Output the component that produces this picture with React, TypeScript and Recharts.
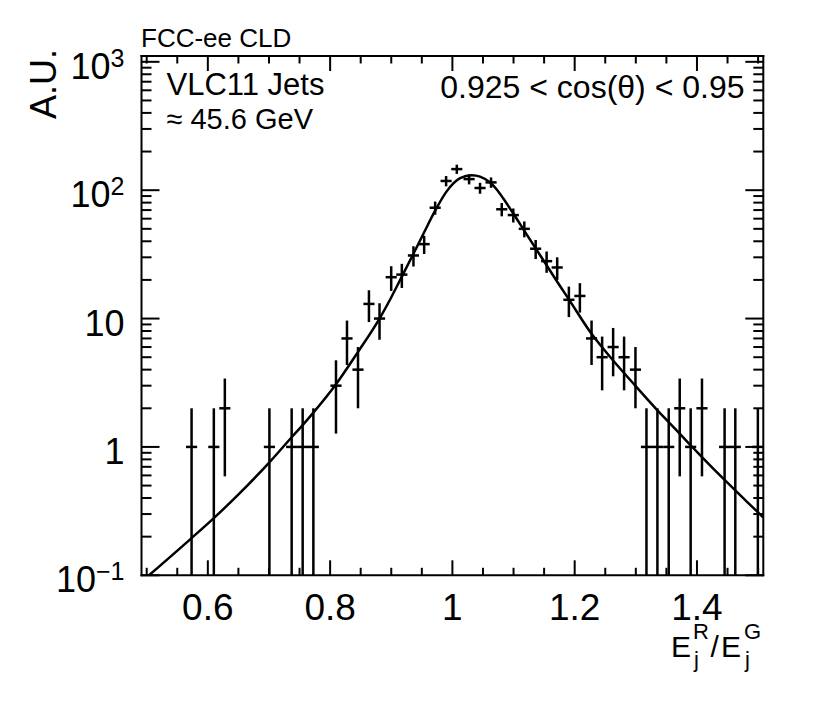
import React from 'react';
import { ComposedChart, Scatter, Line, XAxis, YAxis, ErrorBar } from 'recharts';

// ---- data ----
const BIN_CENTERS = [
  0.5734, 0.6098, 0.6278, 0.7007, 0.7371, 0.7551, 0.7726, 0.8096, 0.8276, 0.8456,
  0.8635, 0.8808, 0.8999, 0.9173, 0.9363, 0.9538, 0.9718, 0.9897, 1.0072, 1.0273,
  1.0452, 1.0632, 1.0807, 1.0996, 1.1176, 1.1362, 1.1541, 1.1714, 1.1905, 1.2085,
  1.2276, 1.2449, 1.2629, 1.2808, 1.2994, 1.3174, 1.3353, 1.3538, 1.3718, 1.3897,
  1.4082, 1.4452, 1.4627, 1.4996,
];
const COUNTS = [
  1, 1, 2, 1, 1, 1, 1, 3, 7, 4,
  13, 10, 21, 22, 31, 38, 73, 118, 146, 122,
  104, 115, 71, 64, 50, 35, 28, 25, 14, 15,
  7, 5, 6, 5, 4, 1, 1, 1, 2, 1,
  2, 1, 1, 1,
];
const COUNT_ERRORS = [
  1, 1, 1.41, 1, 1, 1, 1, 1.73, 2.65, 2,
  3.61, 3.16, 4.58, 4.69, 5.57, 6.16, 8.54, 10.86, 12.08, 11.05,
  10.2, 10.72, 8.43, 8, 7.07, 5.92, 5.29, 5, 3.74, 3.87,
  2.65, 2.24, 2.45, 2.24, 2, 1, 1, 1, 1.41, 1,
  1.41, 1, 1, 1,
];
const HALF_BIN = 0.0091;

const CURVE_X = [
  0.5037, 0.5734, 0.6098, 0.6506, 0.7007, 0.7371, 0.7551, 0.7726, 0.8096, 0.8456,
  0.8808, 0.8999, 0.9146, 0.9363, 0.9538, 0.9718, 0.9897, 1.0126, 1.0317, 1.0452,
  1.0616, 1.0725, 1.0833, 1.0996, 1.1166, 1.1362, 1.1541, 1.1677, 1.1905, 1.2276,
  1.2629, 1.2994, 1.3353, 1.3538, 1.3897, 1.4082, 1.4452, 1.4627, 1.4996, 1.5085,
];
const CURVE_Y = [
  0.1, 0.195, 0.279, 0.429, 0.759, 1.19, 1.48, 1.85, 3.08, 5.5,
  10, 14.6, 20, 32, 47, 69.2, 96.6, 124, 131, 127.6,
  114.8, 101.3, 86.1, 65.8, 49.2, 35.2, 26, 20.6, 14.1, 7.6,
  4.71, 2.99, 1.93, 1.56, 1.03, 0.834, 0.553, 0.458, 0.31, 0.282,
];

const X_DOMAIN: [number, number] = [0.4915, 1.5085];
const X_TICKS = [
  0.5, 0.55, 0.6, 0.65, 0.7, 0.75, 0.8, 0.85, 0.9, 0.95, 1,
  1.05, 1.1, 1.15, 1.2, 1.25, 1.3, 1.35, 1.4, 1.45, 1.5,
];
const X_MAJOR = [0.6, 0.8, 1, 1.2, 1.4];
const X_MAJOR_LABELS = ['0.6', '0.8', '1', '1.2', '1.4'];

const Y_MIN = 0.1;
const Y_DOMAIN: [number, number] = [Y_MIN, 1110];
const Y_DECADES = [0.1, 1, 10, 100, 1000];
const Y_DECADE_BASE = ['10', '1', '10', '10', '10'];
const Y_DECADE_EXP = ['\u22121', '', '', '2', '3'];
const Y_MINOR_STEPS = [2, 3, 4, 5, 6, 7, 8, 9];

// ---- derived tables ----
const Y_TICKS = Y_DECADES.flatMap((d, i) =>
  i < Y_DECADES.length - 1 ? [d, ...Y_MINOR_STEPS.map((m) => +(d * m).toPrecision(3))] : [d]
);

const points = BIN_CENTERS.map((x, i) => ({
  x,
  y: COUNTS[i],
  ey: [COUNTS[i] - Math.max(COUNTS[i] - COUNT_ERRORS[i], Y_MIN), COUNT_ERRORS[i]],
  ex: HALF_BIN,
}));
const curve = CURVE_X.map((x, i) => ({ x, y: CURVE_Y[i] }));

const FONT = "'Liberation Sans', Arial, Helvetica, sans-serif";
const LW = 2.5;
const near = (a: number, b: number) => Math.abs(a - b) < 1e-6 * Math.max(1, Math.abs(b));

const xMajorIndex = (v: number) => X_MAJOR.findIndex((m) => near(m, v));
const yDecadeIndex = (v: number) => Y_DECADES.findIndex((d) => near(d, v));

const BottomTick = (props: any) => {
  const { x, y, payload } = props;
  const mi = xMajorIndex(payload.value);
  return (
    <g>
      <line x1={x} x2={x} y1={y} y2={y - (mi >= 0 ? 15 : 7.5)} stroke="#000" strokeWidth={2} />
      {mi >= 0 && (
        <text x={x} y={y + 45} textAnchor="middle" fontSize={37} fontFamily={FONT} fill="#000">
          {X_MAJOR_LABELS[mi]}
        </text>
      )}
    </g>
  );
};

const TopTick = (props: any) => {
  const { x, y, payload } = props;
  const mi = xMajorIndex(payload.value);
  return <line x1={x} x2={x} y1={y} y2={y + (mi >= 0 ? 15 : 7.5)} stroke="#000" strokeWidth={2} />;
};

const LeftTick = (props: any) => {
  const { x, y, payload } = props;
  const di = yDecadeIndex(payload.value);
  return (
    <g>
      <line x1={x} x2={x + (di >= 0 ? 18 : 10)} y1={y} y2={y} stroke="#000" strokeWidth={2} />
      {di >= 0 && (
        <text x={x - 17} y={y + 17} textAnchor="end" fontSize={36} fontFamily={FONT} fill="#000">
          {Y_DECADE_BASE[di]}
          {Y_DECADE_EXP[di] && (
            <tspan fontSize={25} dy={-12}>
              {Y_DECADE_EXP[di]}
            </tspan>
          )}
        </text>
      )}
    </g>
  );
};

const RightTick = (props: any) => {
  const { x, y, payload } = props;
  const di = yDecadeIndex(payload.value);
  return <line x1={x} x2={x - (di >= 0 ? 18 : 10)} y1={y} y2={y} stroke="#000" strokeWidth={2} />;
};

const frameLine = { stroke: '#000', strokeWidth: 2, strokeLinecap: 'square' as const };

export default function App() {
  return (
    <div style={{ position: 'absolute', left: 0, top: 0, width: 830, height: 702, background: '#fff' }}>
      <ComposedChart
        width={830}
        height={702}
        margin={{ top: 55, right: 65.7, bottom: 125.7, left: 140.5 }}
      >
        <XAxis
          xAxisId="b"
          dataKey="x"
          type="number"
          orientation="bottom"
          domain={X_DOMAIN}
          allowDataOverflow
          ticks={X_TICKS}
          interval={0}
          height={1}
          tickSize={0}
          tickMargin={0}
          tickLine={false}
          axisLine={frameLine}
          tick={<BottomTick />}
        />
        <XAxis
          xAxisId="t"
          dataKey="x"
          type="number"
          orientation="top"
          domain={X_DOMAIN}
          allowDataOverflow
          ticks={X_TICKS}
          interval={0}
          height={1}
          tickSize={0}
          tickMargin={0}
          tickLine={false}
          axisLine={frameLine}
          tick={<TopTick />}
        />
        <YAxis
          yAxisId="l"
          dataKey="y"
          type="number"
          scale="log"
          orientation="left"
          domain={Y_DOMAIN}
          allowDataOverflow
          ticks={Y_TICKS}
          interval={0}
          width={1}
          tickSize={0}
          tickMargin={0}
          tickLine={false}
          axisLine={frameLine}
          tick={<LeftTick />}
        />
        <YAxis
          yAxisId="r"
          dataKey="y"
          type="number"
          scale="log"
          orientation="right"
          domain={Y_DOMAIN}
          allowDataOverflow
          ticks={Y_TICKS}
          interval={0}
          width={1}
          tickSize={0}
          tickMargin={0}
          tickLine={false}
          axisLine={frameLine}
          tick={<RightTick />}
        />
        <Line
          xAxisId="b"
          yAxisId="l"
          data={curve}
          dataKey="y"
          type="monotone"
          dot={false}
          activeDot={false}
          stroke="#000"
          strokeWidth={LW}
          isAnimationActive={false}
        />
        <Scatter
          xAxisId="b"
          yAxisId="l"
          data={points}
          dataKey="y"
          shape={() => <g />}
          isAnimationActive={false}
        >
          <ErrorBar dataKey="ey" direction="y" width={0} stroke="#000" strokeWidth={LW} isAnimationActive={false} />
          <ErrorBar dataKey="ex" direction="x" width={0} stroke="#000" strokeWidth={LW} isAnimationActive={false} />
        </Scatter>
      </ComposedChart>
      <svg
        width={830}
        height={702}
        style={{ position: 'absolute', left: 0, top: 0, pointerEvents: 'none' }}
        fontFamily={FONT}
        fill="#000"
      >
        <text x={141} y={47} fontSize={26}>FCC-ee CLD</text>
        <text x={166.5} y={95} fontSize={31}>VLC11 Jets</text>
        <text x={166.5} y={128.5} fontSize={29}>≈ 45.6 GeV</text>
        <text x={744.5} y={97.5} fontSize={32} textAnchor="end">0.925 &lt; cos(θ) &lt; 0.95</text>
        <text transform="translate(56,49) rotate(-90)" fontSize={36} textAnchor="end">A.U.</text>
        <text>
          <tspan x={671} y={657} fontSize={30}>E</tspan>
          <tspan x={693} y={638.5} fontSize={22}>R</tspan>
          <tspan x={694} y={667} fontSize={22}>j</tspan>
          <tspan x={710.5} y={657} fontSize={30}>/</tspan>
          <tspan x={721} y={657} fontSize={30}>E</tspan>
          <tspan x={744} y={638.5} fontSize={22}>G</tspan>
          <tspan x={745} y={667} fontSize={22}>j</tspan>
        </text>
      </svg>
    </div>
  );
}
